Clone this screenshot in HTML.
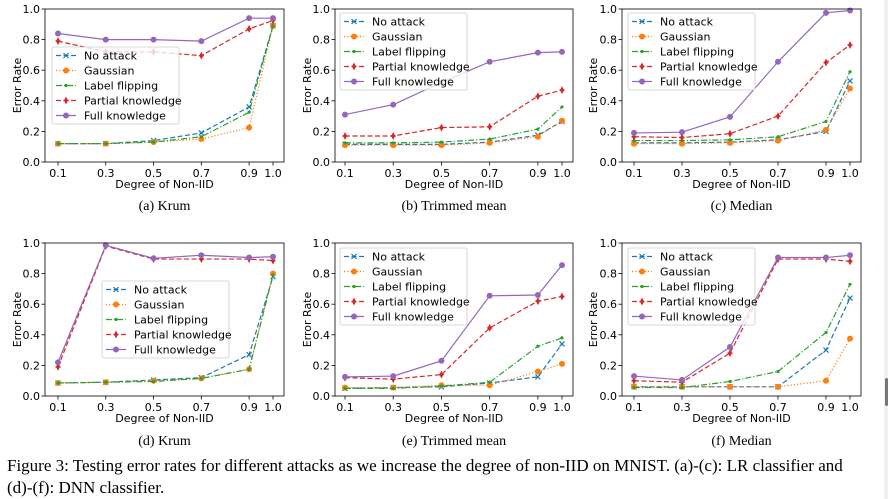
<!DOCTYPE html>
<html><head><meta charset="utf-8"><style>
body{margin:0;background:#fff;width:888px;height:499px;overflow:hidden;position:relative;font-family:"DejaVu Sans",sans-serif}
#cap{position:absolute;left:7px;top:455px;font-family:"Liberation Serif",serif;font-size:17px;line-height:22px;color:#000;width:876px}
#strip{position:absolute;left:884px;top:0;width:4px;height:499px;background:#f0f0f0}
#thumb{position:absolute;left:885px;top:378px;width:3px;height:28px;background:#777;border-radius:2px}
</style></head><body>
<svg id="fig" width="888" height="499" style="position:absolute;left:0;top:0"></svg>
<div id="strip"></div>
<div id="thumb"></div>
<div id="cap">Figure 3: Testing error rates for different attacks as we increase the degree of non-IID on MNIST. (a)-(c): LR classifier and <span style="white-space:nowrap">(d)-(f):</span> DNN classifier.</div>
<script>
const xCats=[0.1,0.3,0.5,0.7,0.9,1.0];
const xTickLabels=["0.1","0.3","0.5","0.7","0.9","1.0"];
const yTicks=[0,0.2,0.4,0.6,0.8,1.0];
const yTickLabels=["0.0","0.2","0.4","0.6","0.8","1.0"];
const seriesNames=["No attack","Gaussian","Label flipping","Partial knowledge","Full knowledge"];
const panelTitles=["(a) Krum","(b) Trimmed mean","(c) Median","(d) Krum","(e) Trimmed mean","(f) Median"];
const aNo=[.12,.12,.14,.19,.36,.89], aGa=[.12,.12,.13,.15,.225,.89], aLf=[.12,.12,.13,.165,.325,.89], aPk=[.79,.72,.72,.695,.87,.925], aFk=[.84,.80,.80,.79,.94,.94];
const bNo=[.115,.115,.115,.13,.175,.265], bGa=[.11,.11,.11,.125,.165,.27], bLf=[.125,.125,.13,.15,.215,.36], bPk=[.17,.17,.225,.23,.43,.47], bFk=[.31,.375,.52,.655,.715,.72];
const cNo=[.125,.125,.13,.145,.20,.53], cGa=[.12,.12,.125,.14,.21,.48], cLf=[.14,.14,.145,.165,.265,.59], cPk=[.165,.16,.185,.30,.65,.765], cFk=[.19,.195,.295,.655,.975,.99];
const dNo=[.085,.09,.105,.12,.27,.78], dGa=[.085,.09,.10,.115,.175,.80], dLf=[.085,.09,.095,.115,.175,.79], dPk=[.19,.98,.895,.895,.895,.885], dFk=[.22,.985,.90,.92,.905,.91];
const eNo=[.05,.055,.06,.085,.125,.34], eGa=[.055,.055,.07,.07,.16,.21], eLf=[.05,.05,.065,.09,.325,.38], ePk=[.12,.11,.14,.445,.62,.65], eFk=[.125,.13,.23,.655,.66,.855];
const fNo=[.06,.06,.06,.06,.30,.64], fGa=[.06,.06,.06,.06,.10,.375], fLf=[.055,.055,.095,.16,.415,.73], fPk=[.10,.09,.28,.895,.895,.88], fFk=[.13,.105,.32,.905,.905,.92];
const panelData=[[aNo,aGa,aLf,aPk,aFk],[bNo,bGa,bLf,bPk,bFk],[cNo,cGa,cLf,cPk,cFk],[dNo,dGa,dLf,dPk,dFk],[eNo,eGa,eLf,ePk,eFk],[fNo,fGa,fLf,fPk,fFk]];

const NS="http://www.w3.org/2000/svg";
const svg=document.getElementById('fig');
function mk(tag,attrs,parent){const e=document.createElementNS(NS,tag);for(const k in attrs)e.setAttribute(k,attrs[k]);(parent||svg).appendChild(e);return e;}
const colors=["#1f77b4","#ff7f0e","#2ca02c","#d62728","#9467bd"];
const dashes=["5,2.5","1.2,2","6,2,1.2,2","5,2.5",""];
const L=[
 [45,284,9,162,58,273,52,47,18,205],
 [335,573,9,162,345,562,340,13,308,205],
 [622,861,9,162,634,850,628,13,594,205],
 [45,284,243,396,58,273,102,281,18,440],
 [335,573,243,396,345,562,340,248,308,440],
 [622,861,243,396,634,850,628,248,594,440]];
function marker(g,k,x,y,c){
 if(k===0){mk('path',{d:`M${x-2.5},${y-2.5}L${x+2.5},${y+2.5}M${x-2.5},${y+2.5}L${x+2.5},${y-2.5}`,stroke:c,'stroke-width':1.2},g);}
 else if(k===1){mk('circle',{cx:x,cy:y,r:3,fill:c},g);}
 else if(k===2){mk('circle',{cx:x,cy:y,r:1.6,fill:c},g);}
 else if(k===3){mk('path',{d:`M${x},${y-4}L${x+2},${y}L${x},${y+4}L${x-2},${y}Z`,fill:c},g);mk('path',{d:`M${x-2.5},${y}L${x+2.5},${y}`,stroke:c,'stroke-width':1.5},g);}
 else {mk('circle',{cx:x,cy:y,r:3,fill:c},g);}
}
panelData.forEach((data,p)=>{
 const [l,r,t,b,x0,x1,lx,ly,ylx,cy]=L[p];
 const g=mk('g',{});
 
 
 const X=v=>x0+(v-0.1)/0.9*(x1-x0);
 const Y=v=>b-v*(b-t);
 yTicks.forEach((v,i)=>{
  mk('line',{x1:l-3.5,x2:l,y1:Y(v),y2:Y(v),stroke:'#000','stroke-width':0.8},g);
  const tx=mk('text',{x:l-5,y:Y(v)+4,'text-anchor':'end','font-size':11,fill:'#000'},g);tx.textContent=yTickLabels[i];
  
  
 });
 xCats.forEach((v,i)=>{
  mk('line',{x1:X(v),x2:X(v),y1:b,y2:b+3.5,stroke:'#000','stroke-width':0.8},g);
  const tx=mk('text',{x:X(v),y:b+15,'text-anchor':'middle','font-size':11,fill:'#000'},g);tx.textContent=xTickLabels[i];
  
  
 });
 const xl=mk('text',{x:(l+r)/2,y:b+26,'text-anchor':'middle','font-size':11,fill:'#000'},g);xl.textContent="Degree of Non-IID";
 
 
 const yl=mk('text',{x:0,y:0,transform:`translate(${ylx+3},${(t+b)/2}) rotate(-90)`,'text-anchor':'middle','font-size':11,fill:'#000'},g);yl.textContent="Error Rate";
 
 
 data.forEach((s,k)=>{
  const sg=mk('g',{},g);
  
  
  const pts=s.map((v,i)=>X(xCats[i])+','+Y(v)).join(' ');
  const a={points:pts,fill:'none',stroke:colors[k],'stroke-width':1.2};
  if(dashes[k])a['stroke-dasharray']=dashes[k];
  mk('polyline',a,sg);
  s.forEach((v,i)=>marker(sg,k,X(xCats[i]),Y(v),colors[k]));
 });
 mk('rect',{x:l,y:t,width:r-l,height:b-t,fill:'none',stroke:'#000','stroke-width':0.8},g);
 const lg=mk('g',{},g);
 
 
 mk('rect',{x:lx,y:ly,width:127,height:77,rx:2,fill:'rgba(255,255,255,0.8)',stroke:'#ccc','stroke-width':0.8},lg);
 seriesNames.forEach((n,k)=>{
  const ey=ly+8.5+k*15;
  const eg=mk('g',{},lg);
  
  
  const a={x1:lx+4,x2:lx+24,y1:ey,y2:ey,stroke:colors[k],'stroke-width':1.2};
  if(dashes[k])a['stroke-dasharray']=dashes[k];
  mk('line',a,eg);
  marker(eg,k,lx+14,ey,colors[k]);
  const tx=mk('text',{x:lx+32,y:ey+4,'font-size':11,fill:'#000'},eg);tx.textContent=n;
 });
 const ct=mk('text',{x:(l+r)/2,y:cy+5,'text-anchor':'middle','font-size':14,'font-family':'"Liberation Serif",serif',fill:'#000'},g);ct.textContent=panelTitles[p];
 
 
});
</script>
</body></html>
